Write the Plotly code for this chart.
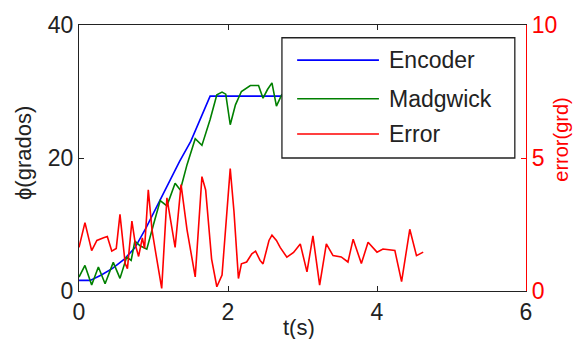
import plotly.graph_objects as go

# ---- data ----
enc_t = [0.0, 0.15, 0.30, 0.45, 0.60, 0.75, 0.90, 1.05, 1.20, 1.35, 1.50, 1.65, 1.76, 4.65]
enc_phi = [1.6, 1.6, 2.4, 3.4, 4.7, 6.5, 9.5, 12.8, 16.2, 19.5, 22.5, 26.3, 29.3, 29.3]

mad_t = [0.0, 0.08, 0.17, 0.26, 0.35, 0.46, 0.55, 0.64, 0.70, 0.75, 0.82, 0.91, 1.00,
         1.09, 1.18, 1.29, 1.36, 1.45, 1.56, 1.65, 1.76, 1.85, 1.92, 1.97, 2.03, 2.10,
         2.18, 2.30, 2.41, 2.47, 2.53, 2.59, 2.65, 2.72, 2.85, 3.00, 3.20, 3.40, 3.60,
         3.80, 4.00, 4.20, 4.40, 4.65]
mad_phi = [2.1, 3.85, 0.9, 3.6, 1.1, 4.3, 1.9, 5.1, 4.6, 7.5, 6.8, 6.3, 10.0,
           13.6, 12.8, 16.2, 15.2, 19.0, 22.9, 21.9, 25.8, 29.5, 29.9, 29.6, 25.0, 28.0,
           30.0, 30.9, 30.9, 29.0, 30.3, 31.3, 27.8, 29.5, 28.8, 29.6, 29.0, 29.8, 29.2,
           29.5, 29.0, 29.6, 29.2, 29.4]

err_t = [0.00, 0.08, 0.17, 0.24, 0.33, 0.38, 0.44, 0.50, 0.55, 0.62, 0.65, 0.71, 0.76,
         0.80, 0.85, 0.88, 0.93, 0.98, 1.02, 1.11, 1.18, 1.24, 1.29, 1.37, 1.45, 1.56,
         1.65, 1.70, 1.78, 1.85, 1.92, 2.03, 2.08, 2.14, 2.18, 2.25, 2.32, 2.37, 2.43,
         2.47, 2.55, 2.59, 2.65, 2.70, 2.79, 2.88, 2.97, 3.06, 3.14, 3.23, 3.32, 3.41,
         3.52, 3.61, 3.68, 3.79, 3.88, 4.00, 4.08, 4.24, 4.33, 4.44, 4.53, 4.62]
err_val = [1.64, 2.57, 1.52, 1.90, 2.00, 2.05, 1.50, 1.60, 2.88, 1.03, 0.84, 2.63, 1.70,
           1.30, 2.00, 1.60, 3.80, 2.30, 1.60, 0.10, 3.50, 2.50, 1.64, 4.00, 2.30, 0.53,
           4.30, 3.80, 1.20, 0.16, 0.60, 4.60, 3.00, 0.47, 1.02, 1.09, 1.40, 1.50, 1.15,
           1.02, 1.90, 2.10, 1.90, 1.64, 1.27, 1.45, 1.77, 0.72, 2.07, 0.22, 1.77, 1.33,
           1.28, 1.09, 1.95, 1.03, 1.83, 1.46, 1.58, 1.52, 0.35, 2.32, 1.33, 1.46]

names = ["Encoder", "Madgwick", "Error"]
colors = ["#0000FF", "#008000", "#FF0000"]

x_ticks = [0, 2, 4, 6]
y_ticks = [0, 20, 40]
y2_ticks = [0, 5, 10]

FONT = "Liberation Sans"
fig = go.Figure()
fig.add_trace(go.Scatter(x=enc_t, y=enc_phi, mode="lines", name=names[0],
                         line=dict(color=colors[0], width=1.6), showlegend=False))
fig.add_trace(go.Scatter(x=mad_t, y=mad_phi, mode="lines", name=names[1],
                         line=dict(color=colors[1], width=1.6), showlegend=False))
fig.add_trace(go.Scatter(x=err_t, y=err_val, mode="lines", name=names[2], yaxis="y2",
                         line=dict(color=colors[2], width=1.6), showlegend=False))

tickfont = dict(family=FONT, size=23, color="#222222")
fig.update_layout(
    width=574, height=339,
    margin=dict(l=79, r=48, t=21, b=48),
    paper_bgcolor="white", plot_bgcolor="white",
    xaxis=dict(range=[0, 6], tickvals=x_ticks, ticks="inside", ticklen=5,
               tickcolor="#222", showline=True, linecolor="#222", linewidth=1.3,
               mirror="ticks", showgrid=False, zeroline=False, tickfont=tickfont),
    yaxis=dict(range=[0, 40], tickvals=y_ticks, ticks="inside", ticklen=5,
               tickcolor="#222", showline=True, linecolor="#222", linewidth=1.3,
               showgrid=False, zeroline=False, tickfont=tickfont),
    yaxis2=dict(range=[0, 10], tickvals=y2_ticks, ticks="inside", ticklen=5,
                tickcolor="#FF0000", showline=True, linecolor="#FF0000", linewidth=1.3,
                overlaying="y", side="right", showgrid=False, zeroline=False,
                tickfont=dict(family=FONT, size=23, color="#FF0000")),
    showlegend=False,
)

# axis titles
fig.add_annotation(text="ϕ(grados)", xref="paper", yref="paper", x=-0.123, y=0.519,
                   textangle=-90, showarrow=False, xanchor="center", yanchor="middle",
                   font=dict(family=FONT, size=22, color="#222"))
fig.add_annotation(text="error(grd)", xref="paper", yref="paper", x=1.0795, y=0.567,
                   textangle=-90, showarrow=False, xanchor="center", yanchor="middle",
                   font=dict(family=FONT, size=20, color="#FF0000"))
fig.add_annotation(text="t(s)", xref="paper", yref="paper", x=0.492, y=-0.137,
                   showarrow=False, xanchor="center", yanchor="middle",
                   font=dict(family=FONT, size=22, color="#222"))

# legend box (MATLAB-style, opaque)
fig.add_shape(type="rect", xref="paper", yref="paper", x0=0.454, x1=0.975, y0=0.5, y1=0.952,
              line=dict(color="#222", width=1.3), fillcolor="white", layer="above")
row_y = [0.868, 0.723, 0.59]
for nm, col, yy in zip(names, colors, row_y):
    fig.add_shape(type="line", xref="paper", yref="paper", x0=0.488, x1=0.671, y0=yy, y1=yy,
                  line=dict(color=col, width=1.6), layer="above")
    fig.add_annotation(text=nm, xref="paper", yref="paper", x=0.688, y=yy, showarrow=False,
                       xanchor="left", yanchor="middle",
                       font=dict(family=FONT, size=23, color="#222"))

fig.write_html("out.html")
